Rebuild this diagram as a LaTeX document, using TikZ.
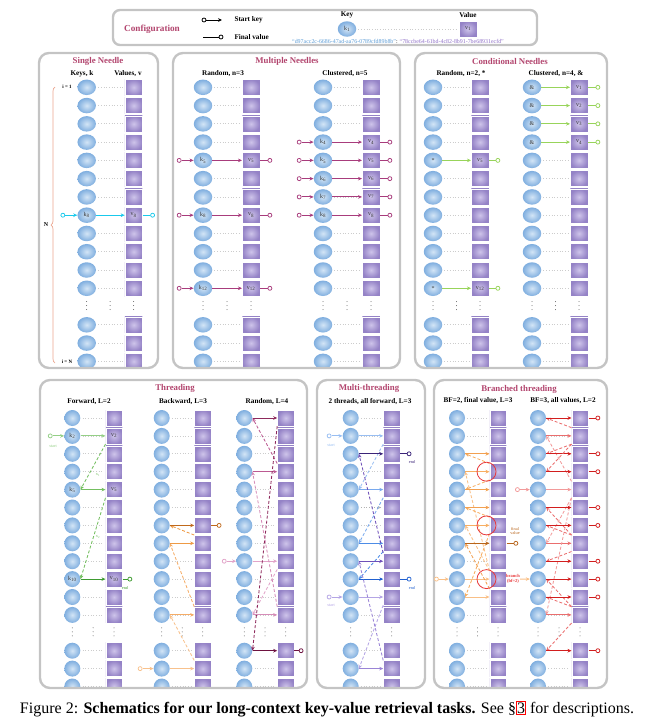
\documentclass[tikz,border=0pt]{standalone}
\usepackage{fontspec}
\setmainfont{Liberation Serif}
\usepackage{xcolor}
\usepackage{tikz}
\usetikzlibrary{calc,positioning,shapes.geometric,arrows.meta,decorations.pathreplacing}

\definecolor{ttlc}{HTML}{B2456E}
\definecolor{framec}{HTML}{C4C4C4}
\definecolor{keyin}{HTML}{D3E5F6}
\definecolor{keyout}{HTML}{7FAEDF}
\definecolor{valin}{HTML}{CEC4EA}
\definecolor{valout}{HTML}{9482C6}
\definecolor{strk}{HTML}{5B9BD5}
\definecolor{strv}{HTML}{8E6FC6}
\definecolor{cyanc}{HTML}{19C9EC}
\definecolor{magc}{HTML}{A83C7C}
\definecolor{limec}{HTML}{98D45A}
\definecolor{salmon}{HTML}{EBA58E}
\definecolor{gA}{HTML}{94CF86}
\definecolor{gB}{HTML}{74BF60}
\definecolor{gC}{HTML}{3E9B30}
\definecolor{oA}{HTML}{F8C18C}
\definecolor{oB}{HTML}{F5AC66}
\definecolor{oC}{HTML}{EE9A44}
\definecolor{oD}{HTML}{C0691B}
\definecolor{pA}{HTML}{E2A4C9}
\definecolor{pB}{HTML}{D68DB8}
\definecolor{pC}{HTML}{BC5A92}
\definecolor{pD}{HTML}{8E2A5C}
\definecolor{pE}{HTML}{6E1240}
\definecolor{bA}{HTML}{98BEF2}
\definecolor{bB}{HTML}{78A9EE}
\definecolor{bC}{HTML}{4D8CE6}
\definecolor{bD}{HTML}{2060D0}
\definecolor{uA}{HTML}{B4A5E5}
\definecolor{uB}{HTML}{9A84D6}
\definecolor{uC}{HTML}{6E4FB8}
\definecolor{uD}{HTML}{3A2378}
\definecolor{qA}{HTML}{F9BF86}
\definecolor{qB}{HTML}{F7AE62}
\definecolor{qC}{HTML}{F2A050}
\definecolor{qD}{HTML}{B8651B}
\definecolor{rA}{HTML}{F29A9A}
\definecolor{rB}{HTML}{EA6E6E}
\definecolor{rC}{HTML}{D21E1E}
\definecolor{redc}{HTML}{E8383A}

% one column pair of keys and values, rows 1-12 and 14-16
\newcommand\kvcolumn[6]{%
  \foreach \r in {1,...,12,14,15,16}{
    \node[#6key] (#1-k\r) at (#2,{#4+(\r-1)*#5}) {};
    \node[#6val] (#1-v\r) at (#3,{#4+(\r-1)*#5}) {};
    \draw[dotline] (#1-k\r) -- (#1-v\r);
  }
  \foreach \xx in {#2,{(#2+#3)/2},#3}
    \draw[vdot] ({\xx},{#4+12*#5-5}) -- ({\xx},{#4+12*#5+5});
}
\newcommand\kvarrow[3]{\draw[kv,#3] (#1-k#2) -- (#1-v#2);}
\newcommand\inport[4]{%
  \node[port,draw=#3,left=#4 of #1-k#2] (#1-s#2) {};
  \draw[kv,#3] (#1-s#2) -- (#1-k#2);}
\newcommand\outport[4]{%
  \node[port,draw=#3,right=#4 of #1-v#2] (#1-e#2) {};
  \draw[finl,#3] (#1-v#2) -- (#1-e#2);}
\newcommand\hop[4]{%
  \ifnum#2<#3\relax
    \draw[hopl,#4] (#1-v#2.south west) -- (#1-k#3.east);
  \else
    \draw[hopl,#4] (#1-v#2.north west) -- (#1-k#3.east);
  \fi}
\newcommand\kvlab[4]{%
  \node[lab] (#1-kt#2) at (#1-k#2) {#3};
  \node[lab] (#1-vt#2) at (#1-v#2) {#4};}
\newcommand\capref[1]{{\setlength\fboxsep{0.4pt}\setlength\fboxrule{0.6pt}\fcolorbox{red}{white}{#1}}}

\begin{document}
\begin{tikzpicture}[x=1pt, y=-1pt, >=Stealth,
    key/.style={ellipse, shade, inner color=keyin, outer color=keyout, minimum width=18.5pt, minimum height=15.5pt, inner sep=0pt},
    skey/.style={key, minimum width=16pt, minimum height=16pt},
    val/.style={rectangle, shade, inner color=valin, outer color=valout, draw=white, line width=0.5pt, minimum width=17.5pt, minimum height=16pt, inner sep=0pt},
    sval/.style={val, minimum width=16.5pt},
    dotline/.style={gray!40, line width=0.7pt, dash pattern=on 0.7pt off 2pt, shorten <=2pt, shorten >=2pt},
    vdot/.style={gray!75!black, line width=1pt, line cap=round, dash pattern=on 0pt off 4pt},
    kv/.style={-{Stealth[length=4pt,width=3.6pt]}, line width=1pt},
    finl/.style={line width=1pt},
    port/.style={circle, draw, fill=white, line width=0.75pt, inner sep=0pt, minimum size=4pt},
    hopl/.style={-{Stealth[length=4pt,width=3.6pt]}, line width=0.85pt, dash pattern=on 3pt off 2pt},
    panel/.style={draw=framec, line width=2.4pt, rounded corners=10pt},
    ttl/.style={font=\fontsize{8.8}{10}\selectfont\bfseries, text=ttlc},
    hdr/.style={font=\fontsize{7.2}{8}\selectfont\bfseries},
    lab/.style={font=\fontsize{6}{7}\selectfont, inner sep=0pt, text=black!80},
    tinytxt/.style={font=\fontsize{4.3}{4.8}\selectfont, inner sep=0pt, align=center},
    rcirc/.style={circle, draw=redc, line width=0.8pt, minimum size=19pt, inner sep=0pt}]

    \useasboundingbox (0,0) rectangle (646,720);

    % configuration legend
    \draw[panel, rounded corners=7pt] (113,10) rectangle (537,45);
    \node[font=\fontsize{9.2}{10}\selectfont\bfseries, text=ttlc] (cfg) at (152,29) {Configuration};
    \node[port] (lg-s) at (204,20) {};
    \coordinate (lg-a) at (222,20);
    \draw[kv] (lg-s) -- (lg-a);
    \node[hdr, anchor=west] (lg-st) at (231,20) {Start key};
    \coordinate (lg-b) at (203,37);
    \node[port] (lg-f) at (221,37) {};
    \draw[finl] (lg-b) -- (lg-f);
    \node[hdr, anchor=west] (lg-ft) at (231,37) {Final value};
    \node[key] (lg-k) at (347,29) {};
    \node[val] (lg-v) at (468,29) {};
    \draw[dotline] (lg-k) -- (lg-v);
    \node[lab] (lg-kt) at (lg-k) {k\textsubscript{1}};
    \node[lab] (lg-vt) at (lg-v) {v\textsubscript{1}};
    \node[hdr] (lg-kh) at (347,15) {Key};
    \node[hdr] (lg-vh) at (468,15) {Value};
    \node[font=\fontsize{5.9}{7}\selectfont, inner sep=0pt] (lg-str) at (398,41.5)
        {\textcolor{strk}{“d97acc2c-6686-47ad-aa76-0789cfd89b8b”}: \textcolor{strv}{“78ccbe64-61bd-4c82-8b91-7be68931ecfd”}};

    % single needle
    \begin{scope}
      \clip[rounded corners=10pt] (39,53) rectangle (158,368);
      \kvcolumn{sn}{86.7}{133.7}{87.3}{18.27}{}
    \end{scope}
    \draw[panel] (39,53) rectangle (158,368);
    \node[ttl] (sn-t) at (98,61) {Single Needle};
    \node[hdr] (sn-h1) at (82,74) {Keys, k};
    \node[hdr] (sn-h2) at (128,74) {Values, v};
    \inport{sn}{8}{cyanc}{12pt}
    \kvarrow{sn}{8}{cyanc}
    \outport{sn}{8}{cyanc}{7.5pt}
    \kvlab{sn}{8}{k\textsubscript{8}}{v\textsubscript{8}}
    \coordinate (br-a) at (55,363);
    \coordinate (br-b) at (55,87);
    \draw[decorate, decoration={brace, amplitude=4pt}, salmon, line width=0.7pt] (br-a) -- (br-b);
    \node[font=\fontsize{6}{7}\selectfont\bfseries] (sn-n) at (46,225) {N};
    \node[tinytxt, font=\fontsize{5}{6}\selectfont\bfseries] (sn-i1) at (67,87) {i = 1};
    \node[tinytxt, font=\fontsize{5}{6}\selectfont\bfseries] (sn-iN) at (67,362) {i = N};

    % multiple needles
    \begin{scope}
      \clip[rounded corners=10pt] (173,53) rectangle (400,368);
      \kvcolumn{mr}{203}{251}{87.3}{18.27}{}
      \kvcolumn{mc}{323}{371}{87.3}{18.27}{}
    \end{scope}
    \draw[panel] (173,53) rectangle (400,368);
    \node[ttl] (mn-t) at (287,61) {Multiple Needles};
    \node[hdr] (mr-h) at (223,74) {Random, n=3};
    \node[hdr] (mc-h) at (345,74) {Clustered, n=5};
    \foreach \r in {5,8,12}{
      \inport{mr}{\r}{magc}{12pt}
      \kvarrow{mr}{\r}{magc}
      \outport{mr}{\r}{magc}{7.5pt}
      \kvlab{mr}{\r}{k\textsubscript{\r}}{v\textsubscript{\r}}
    }
    \foreach \r in {4,...,8}{
      \inport{mc}{\r}{magc}{12pt}
      \kvarrow{mc}{\r}{magc}
      \outport{mc}{\r}{magc}{7.5pt}
      \kvlab{mc}{\r}{k\textsubscript{\r}}{v\textsubscript{\r}}
    }

    % conditional needles
    \begin{scope}
      \clip[rounded corners=10pt] (415,53) rectangle (607,368);
      \kvcolumn{cr}{433}{480}{87.3}{18.27}{}
      \kvcolumn{cc}{532}{579}{87.3}{18.27}{}
    \end{scope}
    \draw[panel] (415,53) rectangle (607,368);
    \node[ttl] (cn-t) at (510,61) {Conditional Needles};
    \node[hdr] (cr-h) at (461,74) {Random, n=2, *};
    \node[hdr] (cc-h) at (556,74) {Clustered, n=4, \&};
    \foreach \r in {5,12}{
      \kvarrow{cr}{\r}{limec}
      \outport{cr}{\r}{limec}{6.5pt}
      \kvlab{cr}{\r}{*}{v\textsubscript{\r}}
    }
    \foreach \r in {1,...,4}{
      \kvarrow{cc}{\r}{limec}
      \outport{cc}{\r}{limec}{7.5pt}
      \kvlab{cc}{\r}{\&}{v\textsubscript{\r}}
    }

    % threading
    \begin{scope}
      \clip[rounded corners=10pt] (40,380) rectangle (307,688);
      \kvcolumn{tf}{72.3}{114}{418}{17.9}{s}
      \kvcolumn{tb}{161.7}{202.7}{418}{17.9}{s}
      \kvcolumn{tr}{244.3}{285.7}{418}{17.9}{s}
    \end{scope}
    \draw[panel] (40,380) rectangle (307,688);
    \node[ttl] (th-t) at (175,388) {Threading};
    \node[hdr] (tf-h) at (89,402) {Forward, L=2};
    \node[hdr] (tb-h) at (183,402) {Backward, L=3};
    \node[hdr] (tr-h) at (267,402) {Random, L=4};
    % forward
    \inport{tf}{2}{gA}{11.5pt}
    \kvarrow{tf}{2}{gA}
    \hop{tf}{2}{5}{gB}
    \kvarrow{tf}{5}{gB}
    \hop{tf}{5}{10}{gB}
    \kvarrow{tf}{10}{gC}
    \outport{tf}{10}{gC}{5pt}
    \kvlab{tf}{2}{k\textsubscript{2}}{v\textsubscript{2}}
    \kvlab{tf}{5}{k\textsubscript{5}}{v\textsubscript{5}}
    \kvlab{tf}{10}{k\textsubscript{10}}{v\textsubscript{10}}
    \node[tinytxt, text=gA] (tf-st) at (53,446) {start};
    \node[tinytxt, text=gC] (tf-en) at (125,588) {end};
    \node[tinytxt, text=gB] (tf-x1) at (98,475) {x\textsubscript{1}};
    \node[tinytxt, text=gB] (tf-x2) at (98,537) {x\textsubscript{2}};
    % backward
    \inport{tb}{15}{oA}{11pt}
    \kvarrow{tb}{15}{oA}
    \hop{tb}{15}{12}{oA}
    \kvarrow{tb}{12}{oB}
    \hop{tb}{12}{8}{oB}
    \kvarrow{tb}{8}{oC}
    \hop{tb}{8}{7}{oC}
    \kvarrow{tb}{7}{oD}
    \outport{tb}{7}{oD}{5.5pt}
    % random
    \inport{tr}{9}{pA}{9.5pt}
    \kvarrow{tr}{9}{pA}
    \hop{tr}{9}{12}{pA}
    \kvarrow{tr}{12}{pB}
    \hop{tr}{12}{4}{pB}
    \kvarrow{tr}{4}{pC}
    \hop{tr}{4}{1}{pC}
    \kvarrow{tr}{1}{pD}
    \hop{tr}{1}{14}{pD}
    \kvarrow{tr}{14}{pE}
    \outport{tr}{14}{pE}{4.5pt}

    % multi-threading
    \begin{scope}
      \clip[rounded corners=10pt] (317,380) rectangle (425,688);
      \kvcolumn{mt}{350.7}{391.7}{418}{17.9}{s}
    \end{scope}
    \draw[panel] (317,380) rectangle (425,688);
    \node[ttl] (mt-t) at (369,388) {Multi-threading};
    \node[hdr] (mt-h) at (370,402) {2 threads, all forward, L=3};
    \draw[dotline, gray!60, -{Stealth[length=3.5pt,width=3pt]}] (mt-k6) -- (mt-v6);
    \inport{mt}{2}{bA}{11pt}
    \kvarrow{mt}{2}{bA}
    \hop{mt}{2}{5}{bA}
    \kvarrow{mt}{5}{bB}
    \hop{mt}{5}{8}{bB}
    \kvarrow{mt}{8}{bC}
    \hop{mt}{8}{10}{bC}
    \kvarrow{mt}{10}{bD}
    \outport{mt}{10}{bD}{6.5pt}
    \inport{mt}{11}{uA}{11pt}
    \kvarrow{mt}{11}{uA}
    \hop{mt}{11}{15}{uA}
    \kvarrow{mt}{15}{uB}
    \hop{mt}{15}{9}{uB}
    \kvarrow{mt}{9}{uC}
    \hop{mt}{9}{3}{uC}
    \kvarrow{mt}{3}{uD}
    \outport{mt}{3}{uD}{6.5pt}
    \node[tinytxt, text=bA] (mt-st1) at (331,445) {start};
    \node[tinytxt, text=uA] (mt-st2) at (331,605) {start};
    \node[tinytxt, text=uD] (mt-en2) at (412,462) {end};
    \node[tinytxt, text=bD] (mt-en1) at (412,588) {end};

    % branched threading
    \begin{scope}
      \clip[rounded corners=10pt] (434,380) rectangle (607,688);
      \kvcolumn{b2}{457}{498}{418}{17.9}{s}
      \kvcolumn{b3}{538}{580}{418}{17.9}{s}
    \end{scope}
    \draw[panel] (434,380) rectangle (607,688);
    \node[ttl] (bt-t) at (519,389) {Branched threading};
    \node[hdr] (b2-h) at (478,401) {BF=2, final value, L=3};
    \node[hdr] (b3-h) at (563,401) {BF=3, all values, L=2};
    % bf=2
    \inport{b2}{10}{qA}{10pt}
    \kvarrow{b2}{10}{qA}
    \hop{b2}{10}{4}{qA}
    \hop{b2}{10}{7}{qA}
    \kvarrow{b2}{4}{qB}
    \kvarrow{b2}{7}{qB}
    \hop{b2}{4}{3}{qB}
    \hop{b2}{4}{5}{qB}
    \hop{b2}{7}{6}{qB}
    \hop{b2}{7}{11}{qB}
    \kvarrow{b2}{3}{qC}
    \kvarrow{b2}{5}{qC}
    \kvarrow{b2}{6}{qC}
    \kvarrow{b2}{11}{qA}
    \hop{b2}{11}{8}{qC}
    \kvarrow{b2}{8}{qD}
    \outport{b2}{8}{qD}{7pt}
    \foreach \r in {4,7,10}
      \node[rcirc] (b2-c\r) at ($(b2-v\r.west)+(-3,0)$) {};
    \node[tinytxt, text=qD] (b2-fv) at (515,531) {final\\value};
    \node[tinytxt, text=redc, font=\fontsize{4.5}{5}\selectfont\bfseries] (b2-br) at (513,579) {branch\\(bf=2)};
    \draw[kv, qA] (b2-br) -- (b3-k10);
    % bf=3
    \inport{b3}{5}{rA}{10pt}
    \kvarrow{b3}{5}{rA}
    \foreach \t in {2,8,12}{
      \hop{b3}{5}{\t}{rA}
      \kvarrow{b3}{\t}{rB}
    }
    \foreach \a/\b in {2/1,2/3,2/4,8/6,8/7,8/9,12/10,12/11,12/14}{
      \hop{b3}{\a}{\b}{rB}
      \kvarrow{b3}{\b}{rC}
      \outport{b3}{\b}{rC}{7pt}
    }

    % caption
    \node[font=\fontsize{16}{18}\selectfont, inner sep=0pt] (cap) at (327,709)
        {Figure 2: \textbf{Schematics for our long-context key-value retrieval tasks.} See §\capref{3} for descriptions.};
\end{tikzpicture}
\end{document}
